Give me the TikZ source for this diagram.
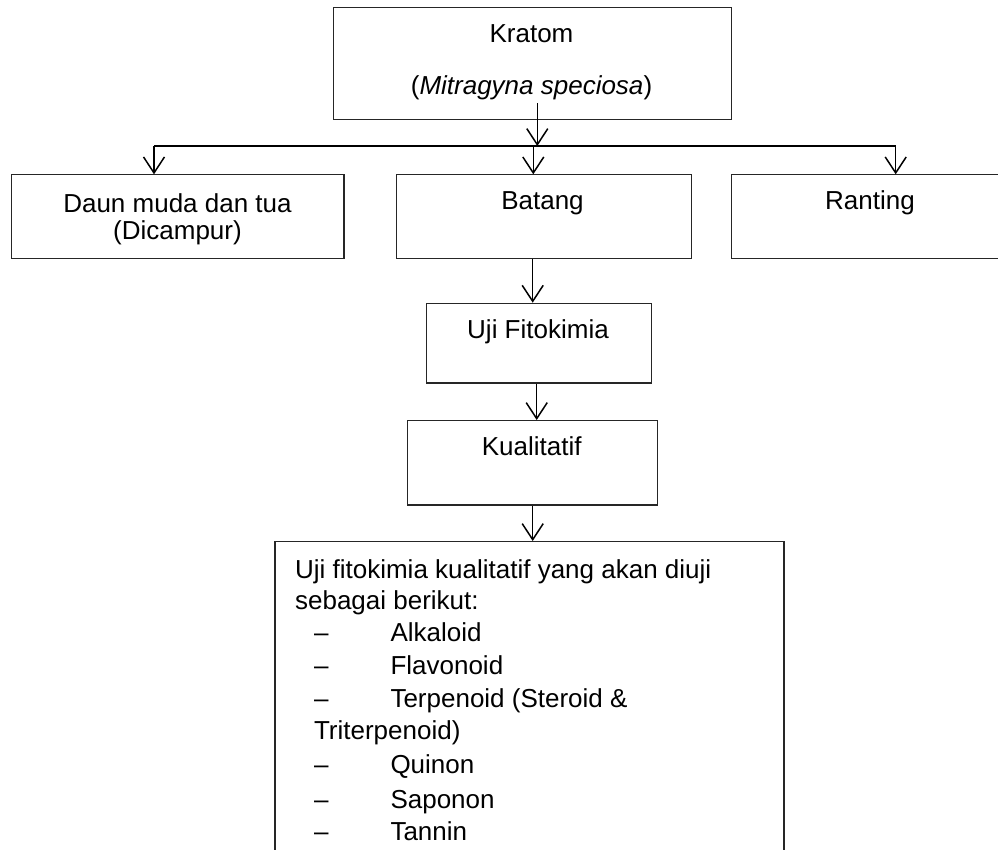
\documentclass[tikz,border=0pt]{standalone}
\usepackage{fontspec}
\setmainfont{Liberation Sans}
\usetikzlibrary{arrows.meta}
\begin{document}
\begin{tikzpicture}[x=1pt,y=-1pt,
  box/.style={draw=black!85, line width=1.2pt, inner sep=0pt, anchor=north west, rectangle},
  lbl/.style={inner sep=0pt, anchor=base, font=\fontsize{26}{30}\selectfont},
  lft/.style={inner sep=0pt, anchor=base west, font=\fontsize{26}{30}\selectfont},
  conn/.style={line width=1.5pt, black},
  arr/.style={conn, -{Straight Barb[length=16pt,width=21pt,line width=1.5pt]}}]
\useasboundingbox (0,0) rectangle (998,850);
\clip (0,0) rectangle (998,850);

% boxes
\node[box, minimum width=398.3pt, minimum height=112pt] (kratom) at (332.7,6.7) {};
\node[box, minimum width=332.3pt, minimum height=83.4pt] (daun) at (11,174.3) {};
\node[box, minimum width=295pt, minimum height=83.4pt] (batang) at (396,174.3) {};
\node[box, minimum width=280pt, minimum height=83.4pt] (ranting) at (731,174.3) {};
\node[box, minimum width=225pt, minimum height=79.6pt] (uji) at (425.7,302.7) {};
\node[box, minimum width=250pt, minimum height=84.3pt] (kual) at (406.7,420) {};
\node[box, minimum width=509pt, minimum height=330pt] (final) at (274.3,541) {};

% texts
\node[lbl] (t1) at (531.5,42.7) {Kratom};
\node[lbl] (t2) at (531.5,95) {(\textit{Mitragyna speciosa})};
\node[lbl] (t3) at (177.5,212.3) {Daun muda dan tua};
\node[lbl] (t4) at (177.5,240) {(Dicampur)};
\node[lbl] (t5) at (542.5,209.3) {Batang};
\node[lbl] (t6) at (870,210) {Ranting};
\node[lbl] (t7) at (538,338.3) {Uji Fitokimia};
\node[lbl] (t8) at (531.7,455) {Kualitatif};

\node[lft] (f1) at (294.9,578.1) {Uji fitokimia kualitatif yang akan diuji};
\node[lft] (f2) at (294.9,609) {sebagai berikut:};
\node[lft] (d1) at (313.8,641.5) {–};
\node[lft] (i1) at (390.3,641.5) {Alkaloid};
\node[lft] (d2) at (313.8,674.8) {–};
\node[lft] (i2) at (390.3,674.8) {Flavonoid};
\node[lft] (d3) at (313.8,707.8) {–};
\node[lft] (i3) at (390.3,707.8) {Terpenoid (Steroid \&};
\node[lft] (i3b) at (313.8,739.4) {Triterpenoid)};
\node[lft] (d4) at (313.8,773.7) {–};
\node[lft] (i4) at (390.3,773.7) {Quinon};
\node[lft] (d5) at (313.8,808) {–};
\node[lft] (i5) at (390.3,808) {Saponon};
\node[lft] (d6) at (313.8,840.6) {–};
\node[lft] (i6) at (390.3,840.6) {Tannin};

% connector coordinates
\coordinate (ks) at (537.3,103.3);
\coordinate (kj) at (537.3,146);
\coordinate (hl) at (154,146);
\coordinate (hm) at (533.3,146);
\coordinate (hr) at (895.7,146);
\coordinate (x1) at (532.7,0);
\coordinate (x2) at (536.7,0);
\coordinate (x3) at (532.7,0);

\draw[arr] (ks) -- (kj);
\draw[conn] (hl) -- (hr);
\draw[arr] (hl) -- (daun.north -| hl);
\draw[arr] (hm) -- (batang.north -| hm);
\draw[arr] (hr) -- (ranting.north -| hr);
\draw[arr] (batang.south -| x1) -- (uji.north -| x1);
\draw[arr] (uji.south -| x2) -- (kual.north -| x2);
\draw[arr] (kual.south -| x3) -- (final.north -| x3);
\end{tikzpicture}
\end{document}
